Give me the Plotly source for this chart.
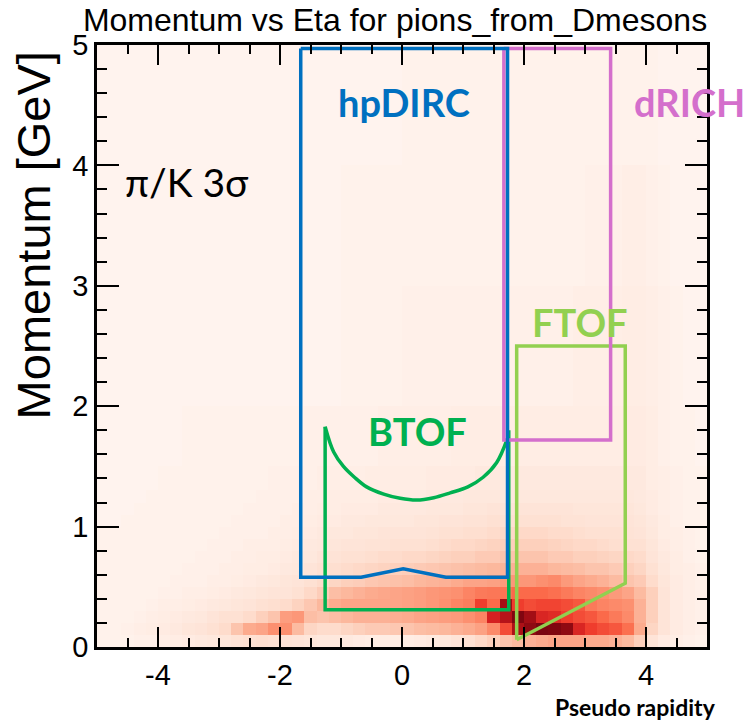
import numpy as np
import plotly.graph_objects as go

# ---------------- data ----------------
# eta bin edges (-5..5, 0.2 wide) and momentum bin edges [GeV]
eta_edges = [round(-5 + 0.2 * i, 2) for i in range(51)]
p_edges = [0.0, 0.1, 0.2, 0.3, 0.4, 0.5, 0.6, 0.7, 0.8, 0.9, 1.0, 1.1, 1.2, 1.3, 1.5, 2.0, 3.0, 4.0, 5.0]

# counts per momentum row (relative, 0..100), 50 eta bins each
r00 = [2,2,2,3,3,4,5,6,7,8, 9,11,12,13,12,11,10,9,8,8, 7,6,5,5,5,5,6,7,8,10, 12,15,18,22,25,28,30,32,32,32, 30,30,28,25,18,10,6,4,3,2]
r01 = [2,2,3,4,5,6,7,9,10,12, 14,22,30,32,38,38,25,16,14,14, 16,18,20,20,21,22,24,25,26,28, 30,33,40,58,85,92,96,95,92,70, 62,58,55,48,30,16,10,6,4,3]
r02 = [2,2,2,3,4,5,6,7,8,10, 12,12,14,18,22,34,36,24,22,24, 26,28,28,28,29,30,32,33,34,35, 38,42,72,82,95,88,70,68,62,58, 55,50,45,40,28,18,10,6,4,3]
r03 = [2,2,2,2,3,4,4,5,6,7, 8,9,10,12,13,14,17,21,26,30, 32,32,32,32,32,33,34,36,38,42, 44,62,50,88,62,58,60,60,58,55, 45,42,40,38,28,18,10,6,4,3]
r04 = [2,2,2,2,2,3,3,4,4,5, 6,7,8,9,10,10,12,15,19,24, 26,28,30,31,32,33,34,36,37,38, 42,45,46,47,50,50,50,48,45,42, 40,38,35,32,25,18,10,6,4,3]
r05 = [2,2,2,2,2,2,3,3,3,4, 4,5,6,7,8,9,10,12,14,16, 18,19,21,22,23,24,26,27,28,30, 32,32,33,35,36,36,38,40,35,32, 30,28,25,22,20,14,9,6,4,3]
r06 = [2,2,2,2,2,2,2,3,3,3, 4,4,5,5,6,7,8,10,12,13, 14,15,16,17,18,19,20,21,22,23, 24,25,26,27,28,28,28,26,25,24, 22,22,20,18,16,12,8,5,4,3]
r07 = [2,2,2,2,2,2,2,2,3,3, 3,4,4,5,5,6,7,8,10,11, 12,12,13,14,14,15,15,16,17,18, 18,20,20,22,22,22,22,20,20,18, 18,17,16,15,14,10,7,5,3,2]
r08 = [2,2,2,2,2,2,2,2,2,3, 3,3,4,4,4,5,6,7,8,9, 10,10,11,11,12,12,12,13,14,15, 15,16,17,18,18,18,18,17,16,15, 15,14,13,12,12,9,6,4,3,2]
r09 = [2,2,2,2,2,2,2,2,2,2, 3,3,3,3,4,4,5,6,7,8, 8,9,9,10,10,10,10,11,12,12, 13,13,14,15,15,15,15,14,14,13, 12,12,12,11,10,8,5,4,3,2]
r10 = [1,1,2,2,2,2,2,2,2,2, 2,3,3,3,3,4,4,5,6,6, 7,7,8,8,8,8,9,9,10,10, 11,11,12,12,12,12,12,12,11,11, 10,10,10,10,9,7,5,3,2,2]
r11 = [1,1,1,2,2,2,2,2,2,2, 2,2,3,3,3,3,4,4,5,5, 6,6,6,7,7,7,7,8,8,8, 9,9,10,10,10,10,10,10,10,9, 9,9,9,9,8,6,4,3,2,2]
r12 = [1,1,1,1,2,2,2,2,2,2, 2,2,2,3,3,3,3,4,4,5, 5,5,5,6,6,6,6,7,7,7, 8,8,8,8,8,8,8,8,8,8, 8,8,8,8,7,6,4,3,2,2]
r13 = [1,1,1,1,1,2,2,2,2,2, 2,2,2,2,3,3,3,3,4,4, 4,4,5,5,5,5,5,6,6,6, 6,7,7,7,7,7,7,7,7,7, 7,7,7,7,7,5,4,3,2,2]
r15 = [1,1,1,1,1,1,1,2,2,2, 2,2,2,2,2,2,2,3,3,3, 3,3,3,4,4,4,4,4,4,5, 5,5,5,5,5,5,5,5,5,5, 5,5,5,6,6,5,3,2,2,1]
r20 = [1,1,1,1,1,1,1,1,1,1, 1,1,1,1,1,1,1,1,1,1, 2,2,2,2,2,3,3,3,3,3, 3,3,3,3,3,3,3,3,3,4, 4,4,4,5,5,4,3,2,1,1]
r30 = [1,1,1,1,1,1,1,1,1,1, 1,1,1,1,1,1,1,1,1,1, 2,2,2,2,2,2,2,2,2,2, 2,2,2,2,2,2,2,2,2,2, 3,3,3,4,4,3,2,1,1,1]
r40 = [1,1,1,1,1,1,1,1,1,1, 1,1,1,1,1,1,1,1,1,1, 1,1,1,1,1,2,2,2,2,2, 2,2,2,2,2,2,2,2,2,2, 2,2,2,2,2,2,1,1,1,1]
counts = [r00, r01, r02, r03, r04, r05, r06, r07, r08, r09, r10, r11, r12, r13, r15, r20, r30, r40]

x_tickvals = [-4, -2, 0, 2, 4]
x_ticktext = ["-4", "-2", "0", "2", "4"]
y_tickvals = [0, 1, 2, 3, 4, 5]
y_ticktext = ["0", "1", "2", "3", "4", "5"]

# detector acceptance outlines (eta, momentum)
hpdirc_eta = [-1.66, -1.66, -0.67, 0.02, 0.72, 1.73, 1.73, -1.66]
hpdirc_p   = [4.97, 0.58, 0.58, 0.65, 0.58, 0.58, 4.97, 4.97]
drich_eta = [1.67, 1.67, 3.42, 3.42, 1.67]
drich_p   = [4.97, 1.72, 1.72, 4.97, 4.97]
btof_eta = [-1.26, -1.26, 1.75, 1.75]
btof_p   = [1.83, 0.31, 0.31, 1.80]
btof_arc_eta = [-1.26, -1.12, -0.96, -0.78, -0.58, -0.3, -0.03, 0.24, 0.52, 0.79, 1.08, 1.33, 1.55, 1.72]
btof_arc_p   = [1.83, 1.62, 1.50, 1.41, 1.33, 1.27, 1.235, 1.22, 1.24, 1.28, 1.33, 1.41, 1.53, 1.72]
ftof_eta = [1.88, 1.88, 3.66, 3.66, 1.88]
ftof_p   = [0.06, 2.50, 2.50, 0.53, 0.06]

labels = ["hpDIRC", "dRICH", "FTOF", "BTOF", "π/K 3σ"]
label_eta = [0.03, 4.72, 2.92, 0.26, -3.52]
label_p = [4.53, 4.53, 2.70, 1.79, 3.86]
label_colors = ["#0070C0", "#D46FCC", "#92D050", "#00B050", "black"]

# ---------------- figure ----------------
fig = go.Figure()
fig.add_trace(go.Heatmap(x=eta_edges, y=p_edges, z=counts, colorscale="Reds",
                         zmin=0, zmax=100, showscale=False, hoverinfo="skip"))

def outline(xs, ys, color, width=3.5, shape="linear"):
    fig.add_trace(go.Scatter(x=xs, y=ys, mode="lines", line=dict(color=color, width=width, shape=shape),
                             showlegend=False, hoverinfo="skip"))

outline(btof_eta, btof_p, "#00B050", 3.5)
outline(btof_arc_eta, btof_arc_p, "#00B050", 3.5, "spline")
outline(ftof_eta, ftof_p, "#92D050", 3.5)
outline(drich_eta, drich_p, "#D46FCC", 3.5)
outline(hpdirc_eta, hpdirc_p, "#0070C0", 3.5)

for t, ex, py, c in zip(labels, label_eta, label_p, label_colors):
    bold = t != "π/K 3σ"
    fig.add_annotation(x=ex, y=py, xref="x", yref="y", text=(f"<b>{t}</b>" if bold else t),
                       xanchor="center", yanchor="middle", showarrow=False,
                       font=dict(family="Lato, Noto Sans, sans-serif", size=(38 if bold else 39), color=c))

fig.add_annotation(x=1.018, y=-0.1, xref="paper", yref="paper", xanchor="right", yanchor="middle",
                   text="<b>Pseudo rapidity</b>", showarrow=False,
                   font=dict(family="Lato, Noto Sans, sans-serif", size=23, color="black"))
fig.add_annotation(x=-0.104, y=0.683, xref="paper", yref="paper", xanchor="center", yanchor="middle",
                   textangle=-90, text="Momentum [GeV]", showarrow=False,
                   font=dict(family="Liberation Sans, Arial, sans-serif", size=47, color="black"))

axis_common = dict(showline=True, linecolor="black", linewidth=2.5, mirror="allticks", ticks="inside",
                   tickcolor="black", tickwidth=2, showgrid=False, zeroline=False, tickmode="array",
                   tickfont=dict(family="Liberation Sans, Arial, sans-serif", size=29, color="black"))
fig.update_xaxes(range=[-5, 5], tickvals=x_tickvals, ticktext=x_ticktext, ticklen=20,
                 minor=dict(dtick=0.5, tick0=0, ticks="inside", ticklen=9, tickcolor="black", tickwidth=1.5, showgrid=False),
                 **axis_common)
fig.update_yaxes(range=[0, 5], tickvals=y_tickvals, ticktext=y_ticktext, ticklen=22,
                 minor=dict(dtick=0.2, tick0=0, ticks="inside", ticklen=10, tickcolor="black", tickwidth=1.5, showgrid=False),
                 **axis_common)

fig.update_layout(
    width=751, height=722,
    margin=dict(l=97, r=44, t=45, b=75),
    paper_bgcolor="white", plot_bgcolor="white",
    title=dict(text="Momentum vs Eta for pions_from_Dmesons", x=0.526, xanchor="center", y=0.972, yanchor="middle",
               font=dict(family="Liberation Sans, Arial, sans-serif", size=32, color="black")),
)

fig.write_html("out.html")
